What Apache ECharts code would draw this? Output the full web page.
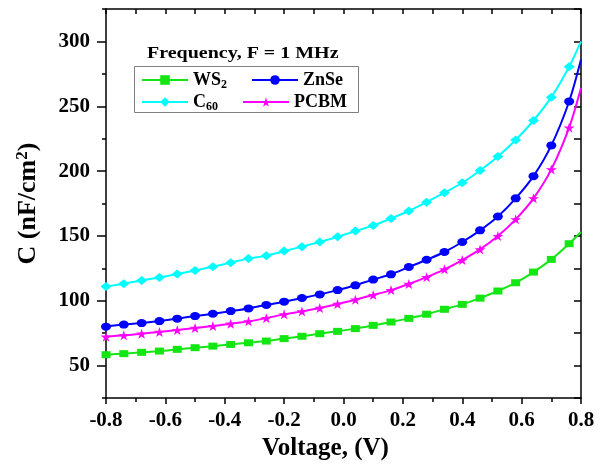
<!DOCTYPE html>
<html>
<head>
<meta charset="utf-8">
<script src="https://cdn.jsdelivr.net/npm/echarts@6/dist/echarts.min.js"></script>
<style>
  html, body { margin: 0; padding: 0; background: #fff; }
  #main { width: 599px; height: 466px; }
</style>
</head>
<body>
<div id="main"></div>
<script>
  // voltage sweep (V)
  var voltage = [-0.80, -0.74, -0.68, -0.62, -0.56, -0.50, -0.44, -0.38, -0.32, -0.26,
                 -0.20, -0.14, -0.08, -0.02, 0.04, 0.10, 0.16, 0.22, 0.28, 0.34,
                 0.40, 0.46, 0.52, 0.58, 0.64, 0.70, 0.76, 0.80];
  // capacitance (nF/cm2)
  var ws2  = [58.4, 59.2, 60.2, 61.2, 62.5, 63.8, 65.0, 66.3, 67.6, 68.9,
              70.8, 72.6, 74.6, 76.4, 78.5, 81.0, 83.6, 86.4, 89.6, 93.4,
              97.2, 102.0, 107.5, 113.9, 122.1, 131.9, 144.0, 153.0];
  var znse = [80.0, 81.6, 82.8, 84.3, 86.2, 88.2, 90.0, 92.0, 94.1, 96.8,
              99.3, 102.1, 104.9, 108.2, 111.9, 116.3, 120.4, 126.0, 131.6, 137.6,
              145.3, 154.3, 165.0, 179.0, 196.1, 219.8, 253.7, 286.0];
  var c60  = [110.9, 113.2, 115.7, 118.0, 120.6, 123.4, 126.3, 129.4, 132.5, 134.8,
              138.3, 141.7, 145.3, 149.4, 153.7, 158.1, 163.5, 169.2, 176.0, 183.3,
              191.0, 200.5, 211.3, 224.0, 239.0, 257.0, 280.5, 300.0];
  var pcbm = [72.3, 73.3, 74.6, 75.9, 77.4, 79.0, 80.5, 82.3, 84.1, 86.6,
              89.5, 91.8, 94.4, 97.5, 100.8, 104.4, 108.2, 112.9, 118.2, 124.2,
              131.4, 139.6, 149.9, 162.8, 179.0, 201.3, 233.5, 264.0];
  var yTickLabels = [50, 100, 150, 200, 250, 300];

  var FONT = '"Liberation Serif", "Times New Roman", serif';
  var STAR = 'path://M50,0 L61,35 L98,35 L68,57 L79,91 L50,70 L21,91 L32,57 L2,35 L39,35 Z';

  // last sample sits on the frame, drawn without marker
  function pairs(ys) {
    return voltage.map(function (v, i) {
      if (i === voltage.length - 1) return { value: [v, ys[i]], symbol: 'none' };
      return [v, ys[i]];
    });
  }

  function mkSeries(name, ys, color, symbol, size) {
    return {
      name: name,
      type: 'line',
      data: pairs(ys),
      smooth: 0.3,
      symbol: symbol,
      symbolSize: size,
      symbolKeepAspect: false,
      lineStyle: { color: color, width: 2 },
      itemStyle: { color: color },
      clip: true,
      z: 3
    };
  }

  var legendText = {
    fontFamily: FONT, fontWeight: 'bold', fontSize: 18, color: '#000',
    rich: {
      sub: { fontFamily: FONT, fontWeight: 'bold', fontSize: 12, color: '#000',
             verticalAlign: 'bottom', padding: [9, 0, 0, 0] }
    }
  };
  function legendFmt(name) {
    if (name === 'WS2') return 'WS{sub|2}';
    if (name === 'C60') return 'C{sub|60}';
    return name;
  }

  var black = { color: '#000', width: 1.5 };

  var myChart = echarts.init(document.getElementById('main'));

  myChart.setOption({
    animation: false,
    backgroundColor: '#fff',
    grid: { left: 106, right: 18, top: 9, bottom: 68 },
    graphic: [
      { type: 'text', x: 147, y: 46, scaleX: 1.25,
        style: { text: 'Frequency, F = 1 MHz', font: 'bold 16px ' + FONT, fill: '#000' } },
      { type: 'rect', shape: { x: 134.5, y: 66.5, width: 224, height: 46 },
        style: { fill: 'none', stroke: '#808080', lineWidth: 1 } }
    ],
    legend: [
      { data: ['WS2', 'ZnSe'], left: 141, top: 71, padding: 0, itemWidth: 46, itemHeight: 12,
        itemGap: 24, formatter: legendFmt, textStyle: legendText },
      { data: ['C60', 'PCBM'], left: 141, top: 93, padding: 0, itemWidth: 46, itemHeight: 12,
        itemGap: 24, formatter: legendFmt, textStyle: legendText }
    ],
    xAxis: [
      {
        type: 'value', position: 'bottom', min: -0.8, max: 0.8, interval: 0.2,
        name: 'Voltage, (V)', nameLocation: 'middle', nameGap: 37,
        nameTextStyle: { fontFamily: FONT, fontWeight: 'bold', fontSize: 25, color: '#000',
                         padding: [0, 36, 0, 0] },
        axisLine: { show: true, onZero: false, lineStyle: black },
        axisTick: { show: true, inside: false, length: 6, lineStyle: black },
        minorTick: { show: true, splitNumber: 2, length: 4, lineStyle: black },
        axisLabel: { margin: 12, fontFamily: FONT, fontWeight: 'bold', fontSize: 21, color: '#000',
                     formatter: function (v) { return v.toFixed(1); } },
        splitLine: { show: false }
      },
      {
        type: 'value', position: 'top', min: -0.8, max: 0.8, interval: 0.1,
        axisLine: { show: true, onZero: false, lineStyle: black },
        axisTick: { show: true, inside: true, length: 5, lineStyle: black },
        axisLabel: { show: false },
        splitLine: { show: false }
      }
    ],
    yAxis: [
      {
        type: 'value', position: 'left', min: 25, max: 325,
        name: 'C (nF/cm{sup|2})', nameLocation: 'middle', nameGap: 63,
        nameTextStyle: {
          fontFamily: FONT, fontWeight: 'bold', fontSize: 26, color: '#000',
          rich: { sup: { fontFamily: FONT, fontWeight: 'bold', fontSize: 17, color: '#000',
                         verticalAlign: 'top', padding: [0, 0, 12, 0] } }
        },
        axisLine: { show: true, onZero: false, lineStyle: black },
        axisTick: { show: true, inside: false, length: 9, customValues: yTickLabels, lineStyle: black },
        axisLabel: { margin: 16, customValues: yTickLabels, fontFamily: FONT, fontWeight: 'bold',
                     fontSize: 21, color: '#000' },
        splitLine: { show: false }
      },
      {
        type: 'value', position: 'left', min: 25, max: 325, interval: 25,
        axisLine: { show: false, onZero: false },
        axisTick: { show: true, inside: false, length: 4, lineStyle: black },
        axisLabel: { show: false },
        splitLine: { show: false }
      },
      {
        type: 'value', position: 'right', min: 25, max: 325, interval: 25,
        axisLine: { show: true, onZero: false, lineStyle: black },
        axisTick: { show: true, inside: true, length: 7, lineStyle: black },
        axisLabel: { show: false },
        splitLine: { show: false }
      }
    ],
    series: [
      mkSeries('WS2', ws2, '#14E614', 'rect', [9, 7]),
      mkSeries('ZnSe', znse, '#0000FF', 'circle', [10, 8]),
      mkSeries('C60', c60, '#00FFFF', 'diamond', [11, 9]),
      mkSeries('PCBM', pcbm, '#FF00FF', STAR, [11, 10])
    ]
  });
</script>
</body>
</html>
